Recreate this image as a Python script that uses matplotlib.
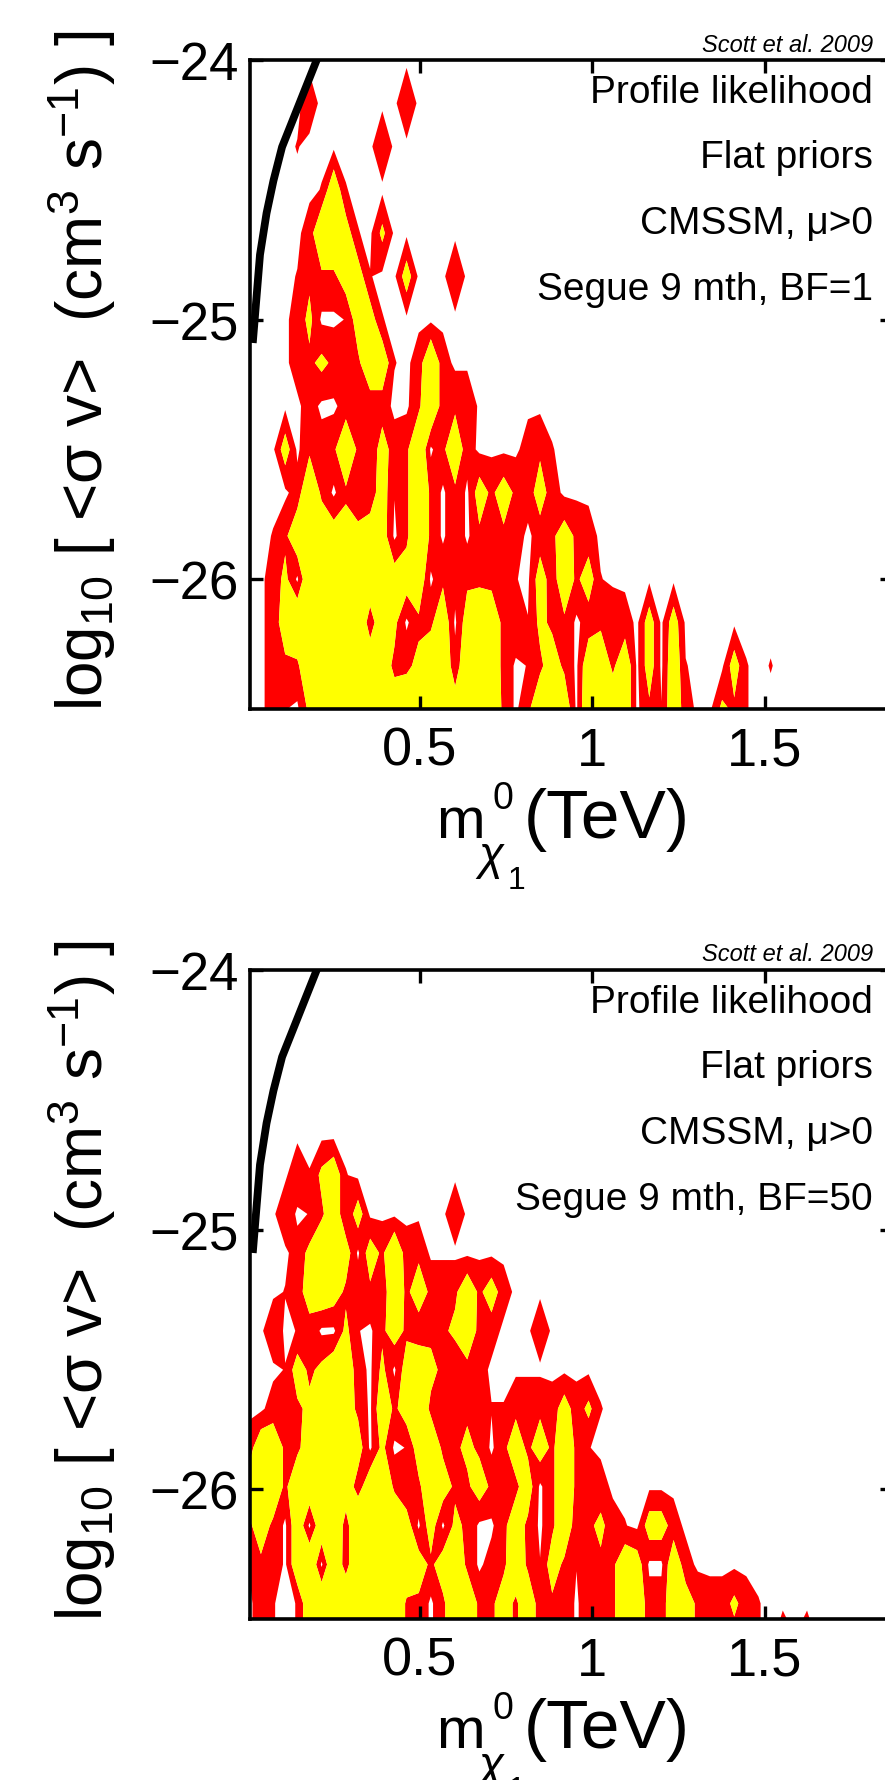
import numpy as np
import matplotlib
matplotlib.use('Agg')
import matplotlib.pyplot as plt

plt.rcParams['font.family'] = ['Liberation Sans', 'DejaVu Sans']
plt.rcParams['mathtext.fontset'] = 'custom'
plt.rcParams['mathtext.rm'] = 'Liberation Sans'
plt.rcParams['mathtext.it'] = 'Liberation Sans:italic'
plt.rcParams['mathtext.bf'] = 'Liberation Sans:bold'

# neutralino mass bin centres (TeV)
mass_start = 0.0035
mass_step = 0.0352
n_mass = 48

# log10 <sigma v> bin centres, one set per panel
sv_top_start, sv_top_step, n_sv_top = -24.0, -1.0 / 6.0, 16
sv_bot_start, sv_bot_step, n_sv_bot = -24.04, -0.15, 18

# profile likelihood ratio, coded per bin (0 = nothing, 9 = best fit)
code_to_like = {'0': 0.0, '1': 0.055, '2': 0.15, '3': 0.25, '4': 0.40,
                '5': 0.50, '6': 0.60, '7': 0.70, '8': 0.80, '9': 0.95}

like_bf1 = [
    "000000000000000000000000000000000000000000000000",
    "000002000000030000000000000000000000000000000000",
    "000010000003000000000000000000000000000000000000",
    "000000161000000000000000000000000000000000000000",
    "000002775104000000000000000000000000000000000000",
    "000013335510050003000000000000000000000000000000",
    "000024001551000000000000000000000000000000000000",
    "000023433366102720000000000000000000000000000000",
    "000002002222003723300000000000000000000000000000",
    "000503237315237036200002310000000000000000000000",
    "000027303225137303053532520000000000000000000000",
    "001367655455037303033320235320000000000000000000",
    "002407888766556032333310526351000000000000000000",
    "002578888726403360565331433023320505000000000000",
    "002337888765334662665301353066360506100051010000",
    "002104788766566565666303656077660316200431000000",
]

like_bf50 = [
    "000000000000000000000000000000000000000000000000",
    "000000000000000000000000000000000000000000000000",
    "000000000000000000000000000000000000000000000000",
    "000000000000000000000000000000000000000000000000",
    "000000000000000000000000000000000000000000000000",
    "000031461000000000000000000000000000000000000000",
    "000301361500000003000000000000000000000000000000",
    "000024765053723000000000000000000000000000000000",
    "000134653332635333635200000000000000000000000000",
    "003013004103532334532000300000000000000000000000",
    "000153466204056431320000000000000000000000000000",
    "002334675306356323321133325241000000000000000000",
    "266335764504015633430353536310000000000000000000",
    "576366786267313653353335036312000000000000000000",
    "353060682888750504300353036234210552000000000000",
    "133067072888875356302363153133365006200000000000",
    "021016778888833036633536233033366226532242100000",
    "021016778888833036633536233033366226532222103130",
]

# relic density boundary curve
curve_mass = [0.015, 0.036, 0.055, 0.075, 0.10, 0.205]
curve_sv = [-25.09, -24.75, -24.59, -24.465, -24.335, -23.985]

panel_labels = ['Segue 9 mth, BF=1', 'Segue 9 mth, BF=50']
info_lines = ['Profile likelihood', 'Flat priors', 'CMSSM, \u03bc>0']

mass_nodes = mass_start + mass_step * np.arange(n_mass)
panels = [
    (like_bf1, sv_top_start + sv_top_step * np.arange(n_sv_top)),
    (like_bf50, sv_bot_start + sv_bot_step * np.arange(n_sv_bot)),
]

W, H = 885, 1781
fig = plt.figure(figsize=(W / 100, H / 100), dpi=100)

ax_left, ax_right = 250, 893
ax_tops = [61, 971]
ax_h = 649


def fy(py):
    return 1 - py / H


for (grid, sv_nodes), top, label in zip(panels, ax_tops, panel_labels):
    ax = fig.add_axes([ax_left / W, 1 - (top + ax_h) / H,
                       (ax_right - ax_left) / W, ax_h / H])
    z = np.array([[code_to_like[c] for c in row] for row in grid])
    ax.contourf(mass_nodes, sv_nodes, z, levels=[0.0455, 0.3165, 1.0],
                colors=['#ff0000', '#ffff00'], antialiased=True)
    ax.plot(curve_mass, curve_sv, color='black', lw=5.6,
            solid_capstyle='butt', zorder=5)

    ax.set_xlim(0.007, 1.872)
    ax.set_ylim(-26.5, -24)
    ax.set_xticks([0.5, 1, 1.5])
    ax.set_xticklabels(['0.5', '1', '1.5'])
    ax.set_yticks([-26, -25, -24])
    ax.set_yticklabels(['\u221226', '\u221225', '\u221224'])
    ax.tick_params(direction='in', length=9.5, width=2.4, top=True,
                   right=True, labelsize=38, pad=12)
    ax.tick_params(axis='x', labelsize=39)
    ax.tick_params(axis='y', pad=8)
    for sp in ax.spines.values():
        sp.set_linewidth(2.6)

    tx = (873 - ax_left) / (ax_right - ax_left)
    ax.text(tx, 1 + 16 / ax_h, 'Scott et al. 2009', transform=ax.transAxes,
            ha='right', va='center', fontsize=17, style='italic')
    for i, line in enumerate(info_lines + [label]):
        ax.text(tx, 1 - (32 + 65.5 * i) / ax_h, line, transform=ax.transAxes,
                ha='right', va='center', fontsize=28)

    # x label: m with chi_1^0 subscript, built from pieces
    fig.text(436 / W, fy(top + 777), 'm', ha='left', va='baseline',
             fontsize=42)
    fig.text(492 / W, fy(top + 748), '0', ha='left', va='baseline',
             fontsize=27)
    fig.text(478 / W, fy(top + 808), '\u03c7', ha='left', va='baseline',
             fontsize=33, style='italic')
    fig.text(508 / W, fy(top + 828), '1', ha='left', va='baseline',
             fontsize=23)
    fig.text(524 / W, fy(top + 777), '(TeV)', ha='left', va='baseline',
             fontsize=50)

    fig.text(82 / W, fy(top + 310),
             r'log$_{10}$ [ <σ v>  (cm$^{3}$ s$^{-1}$) ]', rotation=90,
             ha='center', va='center', fontsize=46)

fig.savefig('out.png', dpi=100)
